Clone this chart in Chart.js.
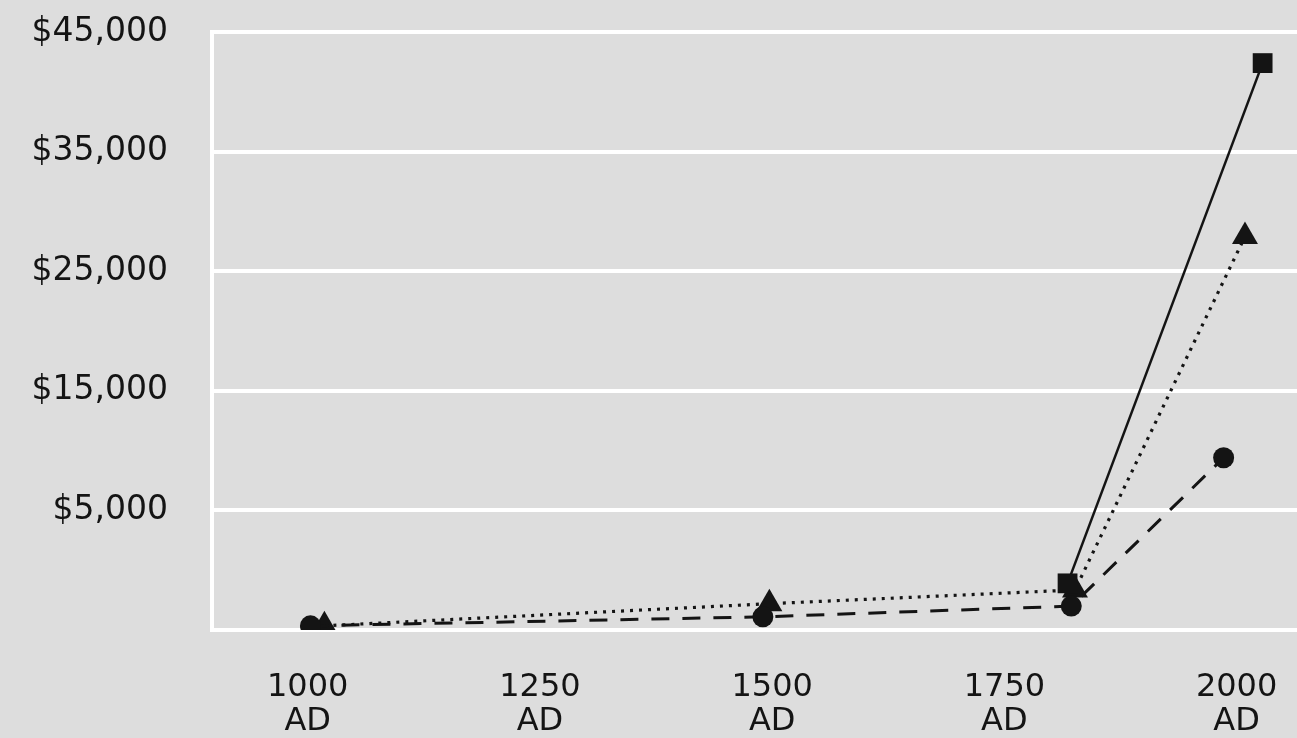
<!DOCTYPE html>
<html>
<head>
<meta charset="utf-8">
<script src="https://cdn.jsdelivr.net/npm/chart.js@4"></script>
<style>
  html, body { margin: 0; padding: 0; background: #dddddd; }
  #wrap { width: 1297px; height: 738px; }
</style>
</head>
<body>
<div id="wrap"><canvas id="gdp-chart" width="1297" height="738"></canvas></div>
<script>
// tick positions
const xTickYears = [1000, 1250, 1500, 1750, 2000];
const yTickValues = [-5000, 5000, 15000, 25000, 35000, 45000];

// series (x = year, y = dollars)
const squareYears = [1818, 2028];
const squareValues = [-1100, 42400];
const circleYears = [1003, 1490, 1822, 1986];
const circleValues = [-4650, -3900, -3000, 9400];
const triangleYears = [1018, 1497, 1826, 2009];
const triangleValues = [-4650, -2800, -1650, 27900];

const ink = '#141414';
const labelFont = { family: 'DejaVu Sans', size: 32, lineHeight: 1.05 };

function toPoints(xs, ys) {
  return xs.map((x, i) => ({ x: x, y: ys[i] }));
}

const bgPlugin = {
  id: 'bg',
  beforeDraw(chart) {
    const ctx = chart.ctx;
    ctx.save();
    ctx.fillStyle = '#dddddd';
    ctx.fillRect(0, 0, chart.width, chart.height);
    ctx.restore();
  }
};

const ctx = document.getElementById('gdp-chart').getContext('2d');
new Chart(ctx, {
  type: 'line',
  data: {
    datasets: [
      {
        label: 'square',
        data: toPoints(squareYears, squareValues),
        borderColor: ink,
        backgroundColor: ink,
        borderWidth: 2.5,
        pointStyle: 'rect',
        pointRadius: 14,
        pointBorderWidth: 0,
        fill: false
      },
      {
        label: 'circle',
        data: toPoints(circleYears, circleValues),
        borderColor: ink,
        backgroundColor: ink,
        borderWidth: 3,
        borderDash: [18, 13],
        pointStyle: 'circle',
        pointRadius: 10.5,
        pointBorderWidth: 0,
        fill: false
      },
      {
        label: 'triangle',
        data: toPoints(triangleYears, triangleValues),
        borderColor: ink,
        backgroundColor: ink,
        borderWidth: 3.2,
        borderDash: [3, 6],
        pointStyle: 'triangle',
        pointRadius: 15,
        pointBorderWidth: 0,
        fill: false
      }
    ]
  },
  options: {
    responsive: false,
    animation: false,
    layout: { autoPadding: false, padding: { top: 32, right: 0, left: 0, bottom: 0 } },
    plugins: {
      legend: { display: false },
      tooltip: { enabled: false }
    },
    scales: {
      x: {
        type: 'linear',
        min: 897,
        max: 2065,
        afterBuildTicks: (scale) => { scale.ticks = xTickYears.map(v => ({ value: v })); },
        afterFit: (scale) => {
          scale.height = 108;
          scale.paddingLeft = 0;
          scale.paddingRight = 0;
        },
        grid: { display: false, drawTicks: false },
        border: { display: false },
        ticks: {
          color: ink,
          font: labelFont,
          padding: 41,
          maxRotation: 0,
          autoSkip: false,
          callback: (v) => [String(v), 'AD']
        }
      },
      y: {
        min: -5000,
        max: 45000,
        afterBuildTicks: (scale) => { scale.ticks = yTickValues.map(v => ({ value: v })); },
        afterFit: (scale) => {
          scale.width = 212;
          scale.paddingTop = 0;
          scale.paddingBottom = 0;
        },
        grid: { color: '#ffffff', lineWidth: 4, drawTicks: false },
        border: { display: true, color: '#ffffff', width: 4 },
        ticks: {
          color: ink,
          font: { family: 'DejaVu Sans', size: 33 },
          padding: 44,
          callback: (v) => v > 0 ? '$' + v.toLocaleString('en-US') : ''
        }
      }
    }
  },
  plugins: [bgPlugin]
});
</script>
</body>
</html>
